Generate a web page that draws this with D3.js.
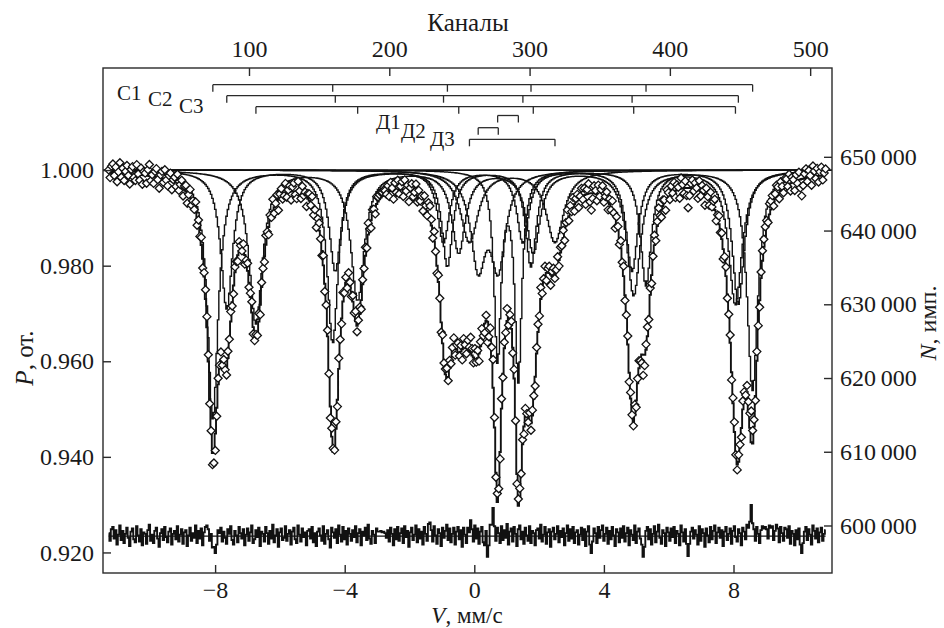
<!DOCTYPE html>
<html>
<head>
<meta charset="utf-8">
<script src="https://cdn.jsdelivr.net/npm/d3@7"></script>
<style>
  html, body { margin: 0; padding: 0; background: #fff; }
  svg { display: block; }
  text { font-family: "Liberation Serif", "Times New Roman", serif; fill: #1a1a1a; }
</style>
</head>
<body>
<svg id="chart" width="944" height="628"></svg>
<script>
// ---- axes ----
const velocityTicks = [-8, -4, 0, 4, 8];
const channelTicks = [100, 200, 300, 400, 500];
const transmissionTicks = [0.92, 0.94, 0.96, 0.98, 1.00];
const countTicks = [600000, 610000, 620000, 630000, 640000, 650000];

// ---- channel calibration ----
const firstChannelVelocity = -11.284;   // mm/s at channel 0
const channelStep = 0.0433;             // mm/s per channel
const baselineCounts = 648200;          // counts at P = 1
const residualLevel = 0.9234;           // zero line of the difference curve
const residualUnit = 1.6e-4;            // one step of the residual table, in P

// ---- sextets: line positions (mm/s), depths, FWHM (mm/s) ----
const sextetLabels = ["С1", "С2", "С3"];
const linesC1 = [-8.07, -4.37, -0.83, 1.75, 5.30, 8.59];
const depthC1 = [0.052, 0.036, 0.020, 0.020, 0.024, 0.046];
const widthC1 = 0.40;
const linesC2 = [-7.64, -4.29, -0.95, 1.50, 4.87, 8.15];
const depthC2 = [0.029, 0.021, 0.015, 0.015, 0.021, 0.028];
const widthC2 = 0.44;
const linesC3 = [-6.74, -3.60, -0.48, 1.82, 4.92, 8.06];
const depthC3 = [0.032, 0.027, 0.017, 0.017, 0.026, 0.028];
const widthC3 = 0.50;

// ---- doublets ----
const doubletLabels = ["Д1", "Д2", "Д3"];
const linesD1 = [0.72, 1.36];
const depthD1 = [0.039, 0.043];
const widthD1 = 0.26;
const linesD2 = [0.12, 0.74];
const depthD2 = [0.019, 0.019];
const widthD2 = 0.55;
const linesD3 = [-0.15, 2.49];
const depthD3 = [0.015, 0.015];
const widthD3 = 0.65;

// ---- measured minus fitted, per channel, in residualUnit steps ----
const residual = [
  4, -6, 9, 12, -3, 8, -11, 2, 14, -5, 7, -9, 3, 11, -2, -13,
  6, 10, -4, -8, 13, 1, -7, 9, -12, 5, 3, -10, 8, 15, -6, 2,
  -9, 7, 11, -3, -14, 4, 9, -5, 12, -1, -8, 6, 10, -11, 3, 7,
  -4, 13, -7, 2, 9, -10, 5, 8, -13, 1, 11, -6, 4, -2, 14, -9,
  7, -3, 10, -12, 5, 12, 14, 9, -6, 3, -15, -14, -22, -11, 8, 4,
  11, -7, 6, -2, -10, 9, 3, 13, -5, -11, 7, 1, -8, 12, 4, -3,
  9, -12, 2, 10, -6, 5, 14, -9, -4, 8, -1, 11, -13, 6, 3, -7,
  12, 4, -10, 7, -3, 15, -8, 1, 9, -14, 5, 10, -5, -2, 13, -6,
  3, 8, -11, 6, 11, -4, -9, 14, 2, -7, 10, -1, 5, -12, 7, 9,
  -3, 12, -8, 4, -13, 6, 10, 1, -6, 13, -10, 3, 8, -4, -15, 11,
  5, -2, 9, -9, 14, 2, -7, 12, -4, 7, -11, 10, 3, -6, 8, -1,
  13, -8, 4, 9, -12, 6, 1, 11, -5, 15, -3, -10, 7, 2, -9, 10,
  6, 6, 7, 5, 6, 4, -2, 8, -7, 11, 3, -12, 9, -4, 12, -6,
  4, 10, -9, 13, -1, 7, -14, 5, 11, -5, 2, 14, -8, 9, -3, 6,
  -11, 12, 3, -6, 16, 18, 8, -7, 13, 1, -10, 9, 4, -13, 11, -2,
  7, 15, -5, 10, -8, 3, 11, -11, 6, 12, -4, 8, -14, 11, 2, -9,
  11, 5, 21, 9, -7, 14, -3, 10, -10, 6, 12, -8, -12, 7, -27, -12,
  15, 15, 37, 13, -6, 11, 4, -9, 13, -5, 8, -2, 16, -11, 6, 10,
  -7, 12, 3, -13, 9, 14, -4, 6, -10, 11, 1, -6, 13, -9, 7, 4,
  -12, 8, 10, -3, 15, -7, 2, 12, -10, 5, 9, -14, 6, 11, -4, 3,
  13, -8, 7, -1, 10, -12, 4, 14, -6, 9, -3, 12, -9, 5, 8, -11,
  2, 11, -5, 9, -13, 6, 13, -11, -22, -7, 10, 4, -9, 12, -2, 8,
  14, -6, 3, 11, -10, 7, -4, 12, 1, -13, 9, 5, -8, 10, -2, 13,
  -7, 4, 11, -12, 8, 2, -5, 14, -9, 6, 10, -3, -11, -27, -14, 7,
  12, -4, 9, -11, 3, 13, -8, 6, 15, -2, -10, 8, 4, -13, 11, 5,
  -6, 10, -1, 12, -9, 7, 3, -12, 14, 5, -7, 9, -10, -26, -10, 6,
  11, -3, 8, 2, -11, 13, -6, 9, 4, -14, 10, 1, -8, 12, -4, 7,
  14, -9, 5, 11, -2, 8, -13, 6, 12, -5, 3, 10, -10, 7, 13, -1,
  -7, 9, 4, -12, 11, 6, -4, 15, 11, 19, 41, 17, 9, -6, 12, 3,
  -9, 8, 13, 10, 12, 9, -3, 14, 11, 13, -5, 7, 15, 10, -8, 12,
  4, -6, 11, 9, -2, 13, -10, 7, 3, -12, 8, -4, 10, -11, -22, -9,
  6, 12, -5, 9, 2, -11, 14, 7, -3, 10, -8, 5, 11, -6, 3, 8
];

// ---- model assembled from the arrays above ----
const sextets = [
  { label: sextetLabels[0], lines: linesC1, depths: depthC1, width: widthC1 },
  { label: sextetLabels[1], lines: linesC2, depths: depthC2, width: widthC2 },
  { label: sextetLabels[2], lines: linesC3, depths: depthC3, width: widthC3 }
];
const doublets = [
  { label: doubletLabels[0], lines: linesD1, depths: depthD1, width: widthD1 },
  { label: doubletLabels[1], lines: linesD2, depths: depthD2, width: widthD2 },
  { label: doubletLabels[2], lines: linesD3, depths: depthD3, width: widthD3 }
];
const components = sextets.concat(doublets);

const channels = d3.range(residual.length);
const velocityOf = ch => firstChannelVelocity + ch * channelStep;
function absorption(comp, v) {
  const h = comp.width / 2;
  let s = 0;
  comp.lines.forEach((p, i) => { const t = (v - p) / h; s += comp.depths[i] / (1 + t * t); });
  return s;
}
const subCurves = components.map(c => channels.map(ch => ({ ch, p: 1 - absorption(c, velocityOf(ch)) })));
const fitCurve = channels.map(ch => {
  const v = velocityOf(ch);
  return { ch, p: 1 - d3.sum(components, c => absorption(c, v)) };
});
const measured = fitCurve.map((d, i) => ({ ch: d.ch, p: d.p + residual[i] * residualUnit }));
const difference = channels.map(ch => ({ ch, p: residualLevel + residual[ch] * residualUnit }));

// ---- layout & scales ----
const L = 103, R = 832, T = 68, B = 573;
const svg = d3.select("#chart");
const x = d3.scaleLinear().domain([-11.46, 11.04]).range([L, R]);
const xc = d3.scaleLinear().domain([0, 512])
  .range([x(firstChannelVelocity), x(firstChannelVelocity + 512 * channelStep)]);
const y = d3.scaleLinear().domain([0.9157, 1.02136]).range([B, T]);
const yN = d3.scaleLinear().domain(y.domain().map(p => p * baselineCounts)).range([B, T]);

const ink = "#111";
const tickFont = 24;

// clip for plotted data
svg.append("defs").append("clipPath").attr("id", "plotClip")
  .append("rect").attr("x", L).attr("y", T).attr("width", R - L).attr("height", B - T);
const plot = svg.append("g").attr("clip-path", "url(#plotClip)");

const stepLine = d3.line().x(d => xc(d.ch)).y(d => y(d.p)).curve(d3.curveStep);

// unit-transmission line
plot.append("line").attr("x1", L).attr("x2", R).attr("y1", y(1)).attr("y2", y(1))
  .attr("stroke", ink).attr("stroke-width", 1.6);

// individual subspectra
plot.selectAll("path.sub").data(subCurves).join("path")
  .attr("class", "sub").attr("d", stepLine)
  .attr("fill", "none").attr("stroke", ink).attr("stroke-width", 1.4);

// total fit
plot.append("path").attr("d", stepLine(fitCurve))
  .attr("fill", "none").attr("stroke", ink).attr("stroke-width", 1.9);

// difference curve and its zero line
plot.append("line")
  .attr("x1", xc(0)).attr("x2", xc(residual.length - 1))
  .attr("y1", y(residualLevel)).attr("y2", y(residualLevel))
  .attr("stroke", ink).attr("stroke-width", 1.2);
plot.append("path").attr("d", stepLine(difference))
  .attr("fill", "none").attr("stroke", ink).attr("stroke-width", 1.9);

// measured points as open diamonds
const diamond = {
  draw(context, size) {
    const r = Math.sqrt(size / 2);
    context.moveTo(0, -r); context.lineTo(r, 0); context.lineTo(0, r); context.lineTo(-r, 0); context.closePath();
  }
};
const sym = d3.symbol().type(diamond).size(32);
plot.selectAll("path.pt").data(measured).join("path")
  .attr("class", "pt")
  .attr("transform", d => `translate(${xc(d.ch)},${y(d.p)})`)
  .attr("d", sym)
  .attr("fill", "#fff").attr("stroke", ink).attr("stroke-width", 1.3);

// ---- frame & axes ----
svg.append("rect").attr("x", L).attr("y", T).attr("width", R - L).attr("height", B - T)
  .attr("fill", "none").attr("stroke", "#2a2a2a").attr("stroke-width", 1.4);

function styleAxis(g) {
  g.select(".domain").remove();
  g.selectAll(".tick line").attr("stroke", "#2a2a2a").attr("stroke-width", 1.4);
  g.selectAll(".tick text").attr("font-size", tickFont).attr("fill", "#1a1a1a")
    .attr("font-family", "Liberation Serif, Times New Roman, serif");
}

svg.append("g").attr("transform", `translate(0,${B})`)
  .call(d3.axisBottom(x).tickValues(velocityTicks).tickSizeInner(-8).tickSizeOuter(0).tickPadding(8).tickFormat(d3.format("d")))
  .call(styleAxis);

svg.append("g").attr("transform", `translate(0,${T})`)
  .call(d3.axisTop(xc).tickValues(channelTicks).tickSizeInner(-8).tickSizeOuter(0).tickPadding(11).tickFormat(d3.format("d")))
  .call(styleAxis);

svg.append("g").attr("transform", `translate(${L},0)`)
  .call(d3.axisLeft(y).tickValues(transmissionTicks).tickSizeInner(-8).tickSizeOuter(0).tickPadding(9).tickFormat(d3.format(".3f")))
  .call(styleAxis);

const spaced = d3.formatLocale({ decimal: ".", thousands: "\u2009", grouping: [3], currency: ["", ""] }).format(",d");
svg.append("g").attr("transform", `translate(${R},0)`)
  .call(d3.axisRight(yN).tickValues(countTicks).tickSizeInner(-8).tickSizeOuter(0).tickPadding(8).tickFormat(spaced))
  .call(styleAxis);

// ---- axis titles ----
svg.append("text").attr("x", 468).attr("y", 31).attr("text-anchor", "middle")
  .attr("font-size", 25).text("Каналы");

const vTitle = svg.append("text").attr("x", 467).attr("y", 622.5).attr("text-anchor", "middle").attr("font-size", 23);
vTitle.append("tspan").attr("font-style", "italic").text("V");
vTitle.append("tspan").text(", мм/с");

const pTitle = svg.append("text").attr("transform", "translate(33,358) rotate(-90)")
  .attr("text-anchor", "middle").attr("font-size", 25);
pTitle.append("tspan").attr("font-style", "italic").text("P");
pTitle.append("tspan").text(", от.");

const nTitle = svg.append("text").attr("transform", "translate(936,323) rotate(-90)")
  .attr("text-anchor", "middle").attr("font-size", 24);
nTitle.append("tspan").attr("font-style", "italic").text("N");
nTitle.append("tspan").text(", имп.");

// ---- line-position bars ----
const bars = svg.append("g").attr("stroke", "#2a2a2a").attr("stroke-width", 1.3).attr("fill", "none");
function drawBar(comp, yLevel, tick) {
  const xs = comp.lines.map(v => x(v));
  bars.append("line").attr("x1", d3.min(xs)).attr("x2", d3.max(xs)).attr("y1", yLevel).attr("y2", yLevel);
  xs.forEach(px => bars.append("line").attr("x1", px).attr("x2", px).attr("y1", yLevel).attr("y2", yLevel + tick));
}
const sextetRows = [84.7, 95.7, 106.7];
const doubletRows = [115.5, 127.7, 139.3];
sextets.forEach((c, i) => drawBar(c, sextetRows[i], 7));
doublets.forEach((c, i) => drawBar(c, doubletRows[i], 7));

const sextetLabelPos = [[117, 100], [148, 106], [179, 113]];
const doubletLabelPos = [[376, 129], [401, 138], [430, 146]];
sextets.forEach((c, i) => svg.append("text").attr("x", sextetLabelPos[i][0]).attr("y", sextetLabelPos[i][1])
  .attr("font-size", 21).text(c.label));
doublets.forEach((c, i) => svg.append("text").attr("x", doubletLabelPos[i][0]).attr("y", doubletLabelPos[i][1])
  .attr("font-size", 21).text(c.label));
</script>
</body>
</html>
